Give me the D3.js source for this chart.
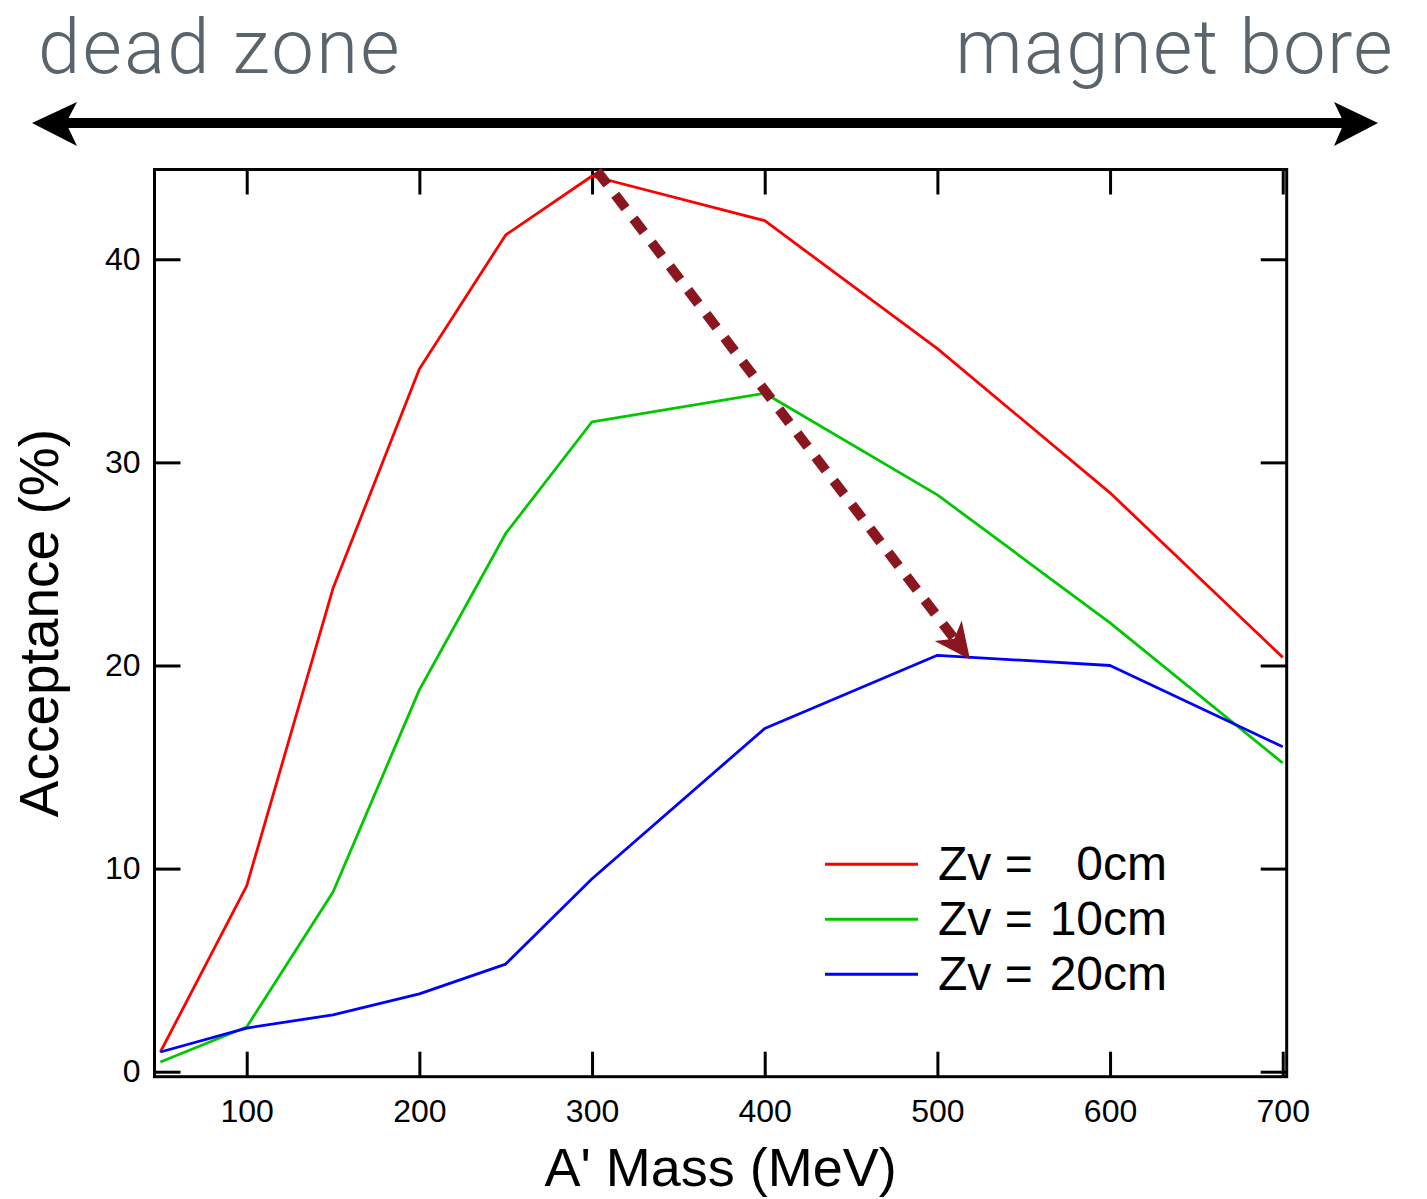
<!DOCTYPE html>
<html>
<head>
<meta charset="utf-8">
<script src="https://cdn.jsdelivr.net/npm/d3@7"></script>
<style>
  html, body { margin: 0; padding: 0; background: #fff; }
  svg { display: block; }
</style>
</head>
<body>
<svg id="chart" width="1427" height="1199"></svg>
<script>
// ---- data ----
const masses = [50, 100, 150, 200, 250, 300, 400, 500, 600, 700];
const zv0  = [0.97, 9.15, 23.8, 34.6, 41.2, 44.1, 41.9, 35.6, 28.5, 20.4];
const zv10 = [0.48, 2.2, 8.85, 18.8, 26.5, 32.0, 33.4, 28.4, 22.1, 15.2];
const zv20 = [0.97, 2.15, 2.8, 3.83, 5.3, 9.5, 16.9, 20.5, 20.0, 16.0];
const seriesNames = ["Zv =", "Zv =", "Zv ="];
const seriesValues = ["0cm", "10cm", "20cm"];
const seriesColors = ["#ff0000", "#00c800", "#0000ff"];
const xTicks = [100, 200, 300, 400, 500, 600, 700];
const yTicks = [0, 10, 20, 30, 40];
const xTitle = "A' Mass (MeV)";
const yTitle = "Acceptance (%)";
const topLeftLabel = "dead zone";
const topRightLabel = "magnet bore";
// shift annotation (mass, acceptance): from the Zv=0 peak to the Zv=20 peak
const shiftArrow = [[302.9, 44.35], [518.9, 20.3]];

// ---- layout ----
const svg = d3.select("#chart");
const plot = { left: 154.5, right: 1286.7, top: 169.5, bottom: 1076.7 };
const x = d3.scaleLinear().domain([46.6, 702.3]).range([plot.left, plot.right]);
const y = d3.scaleLinear().domain([-0.246, 44.42]).range([plot.bottom, plot.top]);

const tickFont = "'Liberation Sans', Arial, Helvetica, sans-serif";

// top labels
const topFont = "Roboto, 'Open Sans', sans-serif";
svg.append("text").attr("x", 38).attr("y", 73)
  .attr("font-family", topFont).attr("font-weight", 300).attr("font-size", 76)
  .attr("letter-spacing", 2.3)
  .attr("fill", "#5a646d").text(topLeftLabel);
svg.append("text").attr("x", 1394).attr("y", 73).attr("text-anchor", "end")
  .attr("font-family", topFont).attr("font-weight", 300).attr("font-size", 76)
  .attr("letter-spacing", 1.4)
  .attr("fill", "#5a646d").text(topRightLabel);

// double headed arrow
const ay = 123;
svg.append("line").attr("x1", 62).attr("x2", 1348).attr("y1", ay).attr("y2", ay)
  .attr("stroke", "#000").attr("stroke-width", 10);
svg.append("path")
  .attr("d", `M32,${ay} L77,${ay-21} L66,${ay} L77,${ay+23} Z`)
  .attr("fill", "#000");
svg.append("path")
  .attr("d", `M1378,${ay} L1334,${ay-21} L1344,${ay} L1334,${ay+23} Z`)
  .attr("fill", "#000");

// clip
svg.append("defs").append("clipPath").attr("id", "clip")
  .append("rect").attr("x", plot.left).attr("y", plot.top)
  .attr("width", plot.right - plot.left).attr("height", plot.bottom - plot.top);

// axes (ticks inside, mirrored)
function styleAxis(g) {
  g.select(".domain").remove();
  g.selectAll(".tick line").attr("stroke", "#000").attr("stroke-width", 3);
  g.selectAll(".tick text").attr("font-family", tickFont).attr("font-size", 32).attr("fill", "#000");
}
svg.append("g").attr("transform", `translate(0,${plot.bottom})`)
  .call(d3.axisBottom(x).tickValues(xTicks).tickSize(-25).tickPadding(23).tickFormat(d3.format("d")))
  .call(styleAxis);
svg.append("g").attr("transform", `translate(0,${plot.top})`)
  .call(d3.axisTop(x).tickValues(xTicks).tickSize(-25).tickFormat(""))
  .call(styleAxis);
svg.append("g").attr("transform", `translate(${plot.left},0)`)
  .call(d3.axisLeft(y).tickValues(yTicks).tickSize(-26).tickPadding(14).tickFormat(d3.format("d")))
  .call(styleAxis);
svg.append("g").attr("transform", `translate(${plot.right},0)`)
  .call(d3.axisRight(y).tickValues(yTicks).tickSize(-26).tickFormat(""))
  .call(styleAxis);

// series lines
const allSeries = [zv0, zv10, zv20];
const line = d3.line().x(d => x(d[0])).y(d => y(d[1]));
const linesG = svg.append("g").attr("clip-path", "url(#clip)");
allSeries.forEach((vals, i) => {
  linesG.append("path")
    .datum(masses.map((m, j) => [m, vals[j]]))
    .attr("d", line)
    .attr("fill", "none")
    .attr("stroke", seriesColors[i])
    .attr("stroke-width", 2.8)
    .attr("stroke-linejoin", "round");
});

// frame
svg.append("rect").attr("x", plot.left).attr("y", plot.top)
  .attr("width", plot.right - plot.left).attr("height", plot.bottom - plot.top)
  .attr("fill", "none").attr("stroke", "#000").attr("stroke-width", 3);

// axis titles
svg.append("text").attr("x", (plot.left + plot.right) / 2).attr("y", 1186)
  .attr("text-anchor", "middle").attr("font-family", tickFont).attr("font-size", 54)
  .attr("fill", "#000").text(xTitle);
svg.append("text")
  .attr("transform", `translate(58,${(plot.top + plot.bottom) / 2}) rotate(-90)`)
  .attr("text-anchor", "middle").attr("font-family", tickFont).attr("font-size", 55)
  .attr("fill", "#000").text(yTitle);

// legend
const legendX1 = 825, legendX2 = 918, legendTextX = 938, legendValX = 1167;
const legendY0 = 864.3, legendStep = 55;
seriesColors.forEach((c, i) => {
  const ly = legendY0 + i * legendStep;
  svg.append("line").attr("x1", legendX1).attr("x2", legendX2).attr("y1", ly).attr("y2", ly)
    .attr("stroke", c).attr("stroke-width", 3);
  svg.append("text").attr("x", legendTextX).attr("y", ly + 16)
    .attr("font-family", tickFont).attr("font-size", 48).attr("fill", "#000").text(seriesNames[i]);
  svg.append("text").attr("x", legendValX).attr("y", ly + 16).attr("text-anchor", "end")
    .attr("font-family", tickFont).attr("font-size", 48).attr("fill", "#000").text(seriesValues[i]);
});

// dashed shift arrow
const p0 = [x(shiftArrow[0][0]), y(shiftArrow[0][1])];
const p1 = [x(shiftArrow[1][0]), y(shiftArrow[1][1])];
const dx = p1[0] - p0[0], dy = p1[1] - p0[1];
const len = Math.hypot(dx, dy);
const ux = dx / len, uy = dy / len;
const headLen = 36, headHalf = 17, notch = 10;
const shaftEnd = [p1[0] - ux * (headLen - notch), p1[1] - uy * (headLen - notch)];
const arrowColor = "#8a1620";
svg.append("line")
  .attr("x1", p0[0]).attr("y1", p0[1]).attr("x2", shaftEnd[0]).attr("y2", shaftEnd[1])
  .attr("stroke", arrowColor).attr("stroke-width", 10).attr("stroke-dasharray", "17,13");
const bx = p1[0] - ux * headLen, by = p1[1] - uy * headLen;
const nx = p1[0] - ux * (headLen - notch), ny = p1[1] - uy * (headLen - notch);
svg.append("path")
  .attr("d", `M${p1[0]},${p1[1]} L${bx - uy * headHalf},${by + ux * headHalf} L${nx},${ny} L${bx + uy * headHalf},${by - ux * headHalf} Z`)
  .attr("fill", arrowColor);
</script>
</body>
</html>
